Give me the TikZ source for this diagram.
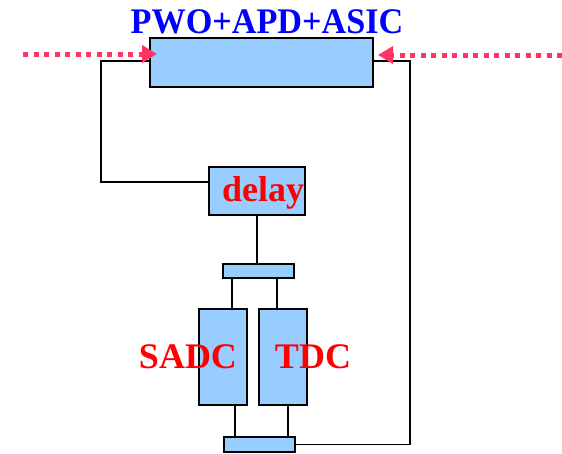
\documentclass[tikz,border=0pt]{standalone}
\usepackage{fontspec}
\setmainfont{Liberation Serif}
\usetikzlibrary{arrows.meta}
\definecolor{boxblue}{HTML}{99CCFF}
\definecolor{titleblue}{HTML}{0000FF}
\definecolor{labred}{HTML}{FF0000}
\definecolor{sigpink}{HTML}{FF3366}
\tikzset{
  blk/.style={draw=black, line width=1.5pt, fill=boxblue, inner sep=0pt, outer sep=0pt},
  wire/.style={draw=black, line width=1.5pt},
  lab/.style={inner sep=0pt, font=\fontsize{36}{40}\selectfont\bfseries},
  sig/.style={draw=sigpink, line width=5pt, dash pattern=on 5pt off 5.5pt,
    -{Triangle[length=15pt,width=17pt,fill=sigpink]}},
}
\begin{document}
\begin{tikzpicture}[x=1pt,y=-1pt]
\useasboundingbox (0,0) rectangle (562,453);
% boxes
\node[blk, minimum width=223pt, minimum height=49pt] (main) at (261.5,62.5) {};
\node[blk, minimum width=96pt, minimum height=48pt] (delay) at (257,191) {};
\node[blk, minimum width=71pt, minimum height=14pt] (topbar) at (258.5,271) {};
\node[blk, minimum width=48pt, minimum height=96pt] (sadc) at (223,357) {};
\node[blk, minimum width=48pt, minimum height=96pt] (tdc) at (283,357) {};
\node[blk, minimum width=71pt, minimum height=15pt] (botbar) at (259.5,444.5) {};
% labels
\node[lab, text=titleblue, xscale=0.95] (title) at (267,22) {PWO+APD+ASIC};
\node[lab, text=labred] (delaylab) at (263,193) {delay};
\node[lab, text=labred] (sadclab) at (188,357) {SADC};
\node[lab, text=labred] (tdclab) at (313,357) {TDC};
% wires
\draw[wire] ([yshift=1.5pt]main.west) -- ++(-49,0) |- ([yshift=9pt]delay.west);
\draw[wire] ([yshift=1.5pt]main.east) -- ++(37,0) |- (botbar.east);
\draw[wire] (delay.south) -- (delay.south |- topbar.north);
\draw[wire] ([xshift=-26.5pt]topbar.south) -- ([xshift=-26.5pt]topbar.south |- sadc.north);
\draw[wire] ([xshift=18.5pt]topbar.south) -- ([xshift=18.5pt]topbar.south |- tdc.north);
\draw[wire] ([xshift=12pt]sadc.south) -- ([xshift=12pt]sadc.south |- botbar.north);
\draw[wire] ([xshift=5pt]tdc.south) -- ([xshift=5pt]tdc.south |- botbar.north);
% signal arrows
\coordinate (lin) at (23,54);
\coordinate (rin) at (562,55);
\draw[sig] (lin) -- ([xshift=7pt,yshift=8.5pt]main.west);
\draw[sig] (rin) -- ([xshift=5pt,yshift=7.5pt]main.east);
\end{tikzpicture}
\end{document}
